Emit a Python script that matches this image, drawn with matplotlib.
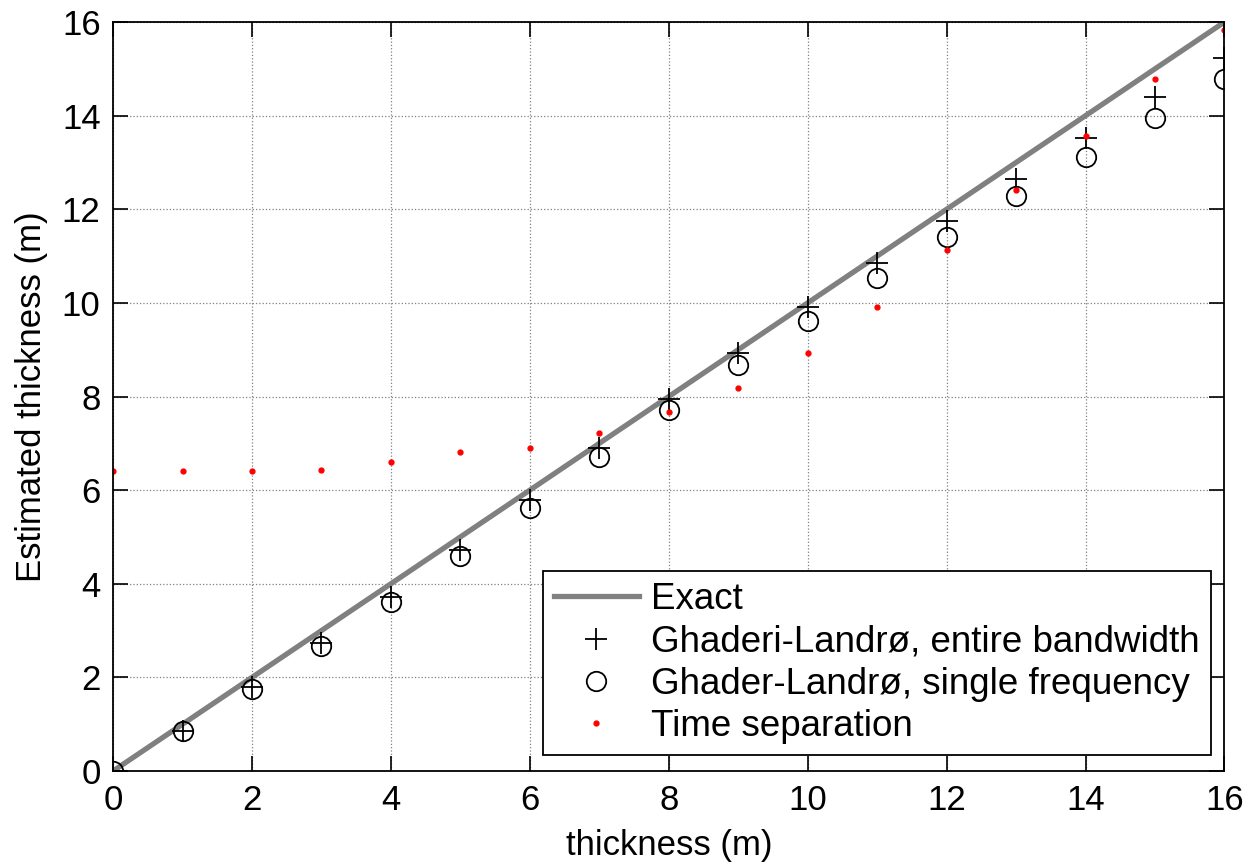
import numpy as np
import matplotlib.pyplot as plt

plt.rcParams['font.family'] = ['Liberation Sans', 'DejaVu Sans']

# Data
thickness = [0, 1, 2, 3, 4, 5, 6, 7, 8, 9, 10, 11, 12, 13, 14, 15, 16]
exact = [0, 16]
gl_bandwidth = [0.0, 0.86, 1.80, 2.73, 3.72, 4.73, 5.79, 6.90, 7.95, 8.94,
                9.92, 10.86, 11.75, 12.64, 13.53, 14.39, 15.24]
gl_single = [0.0, 0.85, 1.76, 2.67, 3.60, 4.60, 5.62, 6.70, 7.71, 8.67,
             9.62, 10.54, 11.40, 12.28, 13.12, 13.96, 14.78]
time_sep = [6.41, 6.41, 6.41, 6.43, 6.61, 6.81, 6.91, 7.23, 7.67, 8.18,
            8.94, 9.91, 11.12, 12.41, 13.57, 14.79, 15.83]

fig = plt.figure(figsize=(12.52, 8.67), dpi=100)
ax = fig.add_axes([0.0903, 0.1107, 0.8877, 0.8639])

ax.plot(exact, exact, color='#808080', linewidth=3.8, label='Exact')
ax.plot(thickness, gl_bandwidth, linestyle='none', marker='+', markersize=16,
        markeredgewidth=1.3, color='black', label='Ghaderi-Landrø, entire bandwidth')
ax.plot(thickness, gl_single, linestyle='none', marker='o', markersize=14,
        markerfacecolor='none', markeredgewidth=1.3, color='black',
        label='Ghader-Landrø, single frequency')
ax.plot(thickness, time_sep, linestyle='none', marker='.', markersize=7,
        color='red', label='Time separation')

ax.set_xlim(0, 16)
ax.set_ylim(0, 16)
ax.set_xticks(np.arange(0, 17, 2))
ax.set_yticks(np.arange(0, 17, 2))
ax.grid(True, linestyle=':', color='#808080', linewidth=0.9)
ax.tick_params(direction='in', length=11, width=1.2, top=True, right=True,
               labelsize=25, pad=9)
for s in ax.spines.values():
    s.set_linewidth(1.3)
ax.set_xlabel('thickness (m)', fontsize=25, labelpad=9)
ax.set_ylabel('Estimated thickness (m)', fontsize=25, labelpad=10)

leg = ax.legend(loc='lower right', bbox_to_anchor=(0.988, 0.021), fontsize=26.5,
                frameon=True, fancybox=False, edgecolor='black', framealpha=1,
                handlelength=2.3, handletextpad=0.35, labelspacing=0.2,
                borderpad=0.3, borderaxespad=0)
leg.get_frame().set_linewidth(1.3)

fig.savefig('out.png', dpi=100)
